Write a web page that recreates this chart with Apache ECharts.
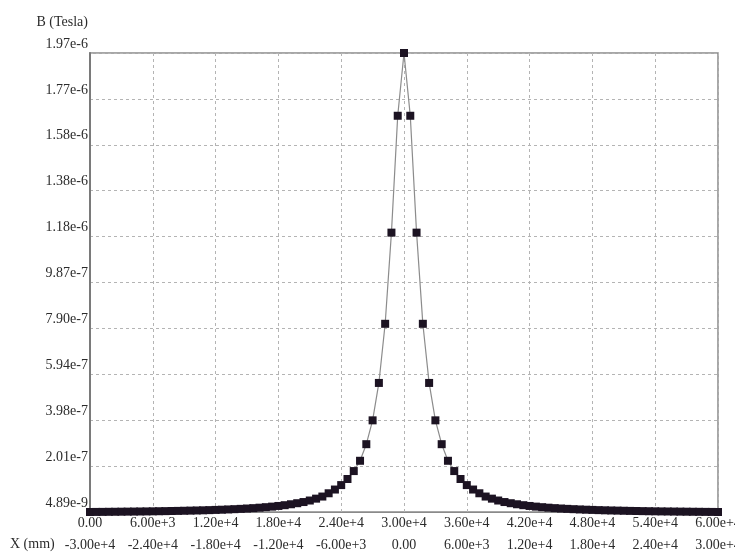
<!DOCTYPE html>
<html>
<head>
<meta charset="utf-8">
<script src="https://cdn.jsdelivr.net/npm/echarts@6/dist/echarts.min.js"></script>
<style>
  html, body { margin: 0; padding: 0; background: #ffffff; }
  #chart { width: 735px; height: 552px; }
</style>
</head>
<body>
<div id="chart"></div>
<script>
// Sample positions along the traverse (mm)
const positions = [
  0, 600, 1200, 1800, 2400, 3000, 3600, 4200, 4800, 5400,
  6000, 6600, 7200, 7800, 8400, 9000, 9600, 10200, 10800, 11400,
  12000, 12600, 13200, 13800, 14400, 15000, 15600, 16200, 16800, 17400,
  18000, 18600, 19200, 19800, 20400, 21000, 21600, 22200, 22800, 23400,
  24000, 24600, 25200, 25800, 26400, 27000, 27600, 28200, 28800, 29400,
  30000,
  30600, 31200, 31800, 32400, 33000, 33600, 34200, 34800, 35400, 36000,
  36600, 37200, 37800, 38400, 39000, 39600, 40200, 40800, 41400, 42000,
  42600, 43200, 43800, 44400, 45000, 45600, 46200, 46800, 47400, 48000,
  48600, 49200, 49800, 50400, 51000, 51600, 52200, 52800, 53400, 54000,
  54600, 55200, 55800, 56400, 57000, 57600, 58200, 58800, 59400, 60000
];

// Magnetic flux density B (Tesla) at each position
const fieldB = [
  4.89e-9, 5.2e-9, 5.4e-9, 5.7e-9, 5.9e-9, 6.2e-9, 6.5e-9, 6.8e-9, 7.1e-9, 7.4e-9,
  7.8e-9, 8.2e-9, 8.6e-9, 9.1e-9, 9.6e-9, 1.02e-8, 1.08e-8, 1.14e-8, 1.21e-8, 1.29e-8,
  1.38e-8, 1.47e-8, 1.58e-8, 1.70e-8, 1.83e-8, 1.98e-8, 2.14e-8, 2.33e-8, 2.55e-8, 2.79e-8,
  3.07e-8, 3.40e-8, 3.80e-8, 4.25e-8, 4.75e-8, 5.40e-8, 6.20e-8, 7.10e-8, 8.50e-8, 1.01e-7,
  1.20e-7, 1.46e-7, 1.80e-7, 2.24e-7, 2.95e-7, 3.97e-7, 5.57e-7, 8.10e-7, 1.20e-6, 1.70e-6,
  1.9685e-6,
  1.70e-6, 1.20e-6, 8.10e-7, 5.57e-7, 3.97e-7, 2.95e-7, 2.24e-7, 1.80e-7, 1.46e-7, 1.20e-7,
  1.01e-7, 8.50e-8, 7.10e-8, 6.20e-8, 5.40e-8, 4.75e-8, 4.25e-8, 3.80e-8, 3.40e-8, 3.07e-8,
  2.79e-8, 2.55e-8, 2.33e-8, 2.14e-8, 1.98e-8, 1.83e-8, 1.70e-8, 1.58e-8, 1.47e-8, 1.38e-8,
  1.29e-8, 1.21e-8, 1.14e-8, 1.08e-8, 1.02e-8, 9.6e-9, 9.1e-9, 8.6e-9, 8.2e-9, 7.8e-9,
  7.4e-9, 7.1e-9, 6.8e-9, 6.5e-9, 6.2e-9, 5.9e-9, 5.7e-9, 5.4e-9, 5.2e-9, 4.89e-9
];

// Axis range of the field values
const bMin = 4.89e-9;
const bMax = 1.9685e-6;

// Tick labels: field axis (bottom to top), traverse axis and centred axis
const yTickLabels = ['4.89e-9', '2.01e-7', '3.98e-7', '5.94e-7', '7.90e-7', '9.87e-7',
  '1.18e-6', '1.38e-6', '1.58e-6', '1.77e-6', '1.97e-6'];
const xTickLabels = ['0.00', '6.00e+3', '1.20e+4', '1.80e+4', '2.40e+4', '3.00e+4',
  '3.60e+4', '4.20e+4', '4.80e+4', '5.40e+4', '6.00e+4'];
const xCenteredLabels = ['-3.00e+4', '-2.40e+4', '-1.80e+4', '-1.20e+4', '-6.00e+3', '0.00',
  '6.00e+3', '1.20e+4', '1.80e+4', '2.40e+4', '3.00e+4'];

const FONT = 'Liberation Serif';
const TEXT = '#2b2b2b';
const labelStyle = { fontFamily: FONT, fontSize: 14, color: TEXT };

const chart = echarts.init(document.getElementById('chart'), null, { renderer: 'canvas' });

chart.setOption({
  animation: false,
  backgroundColor: '#ffffff',
  grid: {
    left: 90, right: 17, top: 53, bottom: 40,
    outerBoundsMode: 'none', containLabel: false,
    show: true, borderColor: '#8a8a8a', borderWidth: 1.5, backgroundColor: 'transparent'
  },
  xAxis: [
    {
      type: 'value', min: 0, max: 60000, interval: 6000,
      axisLine: { show: true, lineStyle: { color: '#8a8a8a', width: 1 } },
      axisTick: { show: false },
      axisLabel: { ...labelStyle, margin: 4, formatter: (v, i) => xTickLabels[i] },
      splitLine: { show: true, lineStyle: { color: '#b4b4b4', type: [3, 3], width: 1 } }
    },
    {
      type: 'value', min: 0, max: 60000, interval: 6000,
      position: 'bottom', offset: 22,
      axisLine: { show: false }, axisTick: { show: false }, splitLine: { show: false },
      axisLabel: { ...labelStyle, margin: 4, formatter: (v, i) => xCenteredLabels[i] }
    }
  ],
  yAxis: [
    {
      type: 'value', min: bMin, max: bMax,
      axisLine: { show: false }, axisTick: { show: false },
      axisLabel: { show: false }, splitLine: { show: false }
    },
    {
      type: 'value', min: 0, max: 10, interval: 1, position: 'left',
      axisLine: { show: true, lineStyle: { color: '#7a7a7a', width: 2 } },
      axisTick: { show: false },
      axisLabel: {
        ...labelStyle, margin: 2, verticalAlign: 'bottom', padding: [0, 0, 2, 0],
        formatter: (v) => yTickLabels[v]
      },
      splitLine: { show: true, lineStyle: { color: '#b4b4b4', type: [3, 3], width: 1 } }
    }
  ],
  graphic: [
    {
      type: 'text', x: 88, y: 22,
      style: { text: 'B (Tesla)', font: '14px "' + FONT + '"', fill: TEXT, align: 'right', verticalAlign: 'middle' }
    },
    {
      type: 'text', x: 10, y: 544,
      style: { text: 'X (mm)', font: '14px "' + FONT + '"', fill: TEXT, align: 'left', verticalAlign: 'middle' }
    }
  ],
  series: [
    {
      type: 'line',
      xAxisIndex: 0, yAxisIndex: 0,
      data: positions.map((x, i) => [x, fieldB[i]]),
      showSymbol: true, showAllSymbol: true,
      symbol: 'rect', symbolSize: 8,
      itemStyle: { color: '#1c1322', borderWidth: 0 },
      lineStyle: { color: '#8c8c8c', width: 1.2 },
      clip: false
    }
  ]
});
</script>
</body>
</html>
